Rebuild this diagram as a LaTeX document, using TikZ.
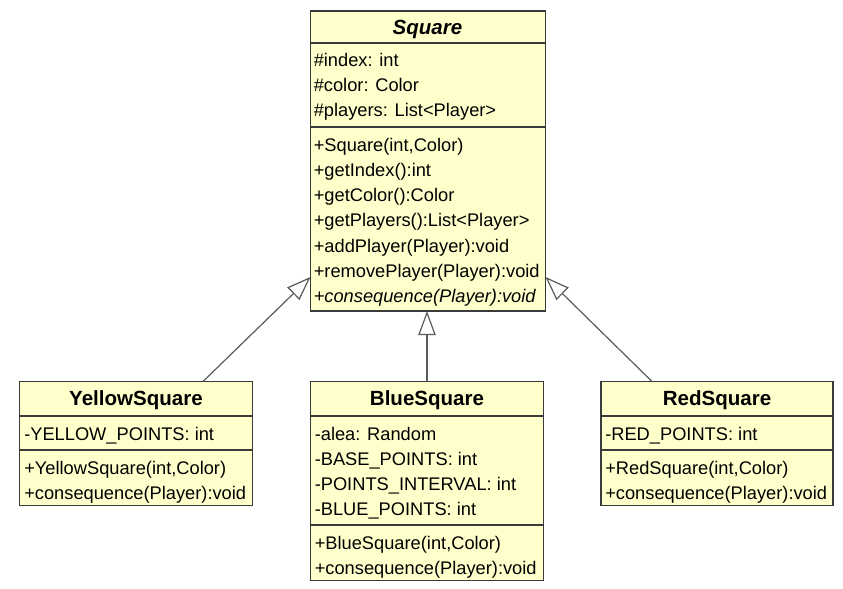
\documentclass[tikz,border=0pt]{standalone}
\usepackage{fontspec}
\setmainfont{Liberation Sans}
\usetikzlibrary{arrows.meta}
\definecolor{clsfill}{HTML}{FFFFCC}
\definecolor{clsdraw}{HTML}{3A3A3A}
\definecolor{linecol}{HTML}{5A5A5A}
\begin{document}
\begin{tikzpicture}[x=0.75pt,y=-0.75pt,
  cls/.style={draw=clsdraw, line width=1.1pt, fill=clsfill, anchor=north west, inner sep=0pt, outer sep=0pt},
  sep/.style={draw=clsdraw, line width=1.1pt},
  title/.style={font=\fontsize{15.4}{18}\selectfont\bfseries, inner sep=0pt, anchor=base},
  mem/.style={font=\fontsize{13.7}{16}\selectfont, inner sep=0pt, anchor=base west},
  inh/.style={draw=linecol, line width=0.9pt, -{Triangle[length=18pt, width=13pt, fill=white]}}]
\fill[white] (0,0) rectangle (843,589);
\useasboundingbox (0,0) rectangle (843,589);

% ---------- Square ----------
\node[cls, minimum width=235*0.75pt, minimum height=300*0.75pt] (square) at (310.5,11) {};
\draw[sep] (square.west |- 0,43) -- (square.east |- 0,43);
\draw[sep] (square.west |- 0,127) -- (square.east |- 0,127);
\node[title, font=\fontsize{15.4}{18}\selectfont\bfseries\itshape] (sqt) at (427.5,34.5) {Square};
\node[mem] (sqa1) at (313.5,66.5) {\#index: int};
\node[mem] (sqa2) at (313.5,91.5) {\#color: Color};
\node[mem] (sqa3) at (313.5,116.5) {\#players: List<Player>};
\node[mem] (sqm1) at (313.5,151) {+Square(int,Color)};
\node[mem] (sqm2) at (313.5,176.3) {+getIndex():int};
\node[mem] (sqm3) at (313.5,201.6) {+getColor():Color};
\node[mem] (sqm4) at (313.5,226.9) {+getPlayers():List<Player>};
\node[mem] (sqm5) at (313.5,252.2) {+addPlayer(Player):void};
\node[mem] (sqm6) at (313.5,277.5) {+removePlayer(Player):void};
\node[mem, font=\fontsize{13.7}{16}\selectfont\itshape] (sqm7) at (313.5,302.8) {+consequence(Player):void};

% ---------- YellowSquare ----------
\node[cls, minimum width=233*0.75pt, minimum height=124*0.75pt] (yellow) at (19.5,381.5) {};
\draw[sep] (yellow.west |- 0,416) -- (yellow.east |- 0,416);
\draw[sep] (yellow.west |- 0,450) -- (yellow.east |- 0,450);
\node[title] (yet) at (136,405.5) {YellowSquare};
\node[mem] (yea1) at (24,440) {-YELLOW\_POINTS: int};
\node[mem] (yem1) at (24,474) {+YellowSquare(int,Color)};
\node[mem] (yem2) at (24,499) {+consequence(Player):void};

% ---------- BlueSquare ----------
\node[cls, minimum width=233*0.75pt, minimum height=199*0.75pt] (blue) at (310.5,381.5) {};
\draw[sep] (blue.west |- 0,416) -- (blue.east |- 0,416);
\draw[sep] (blue.west |- 0,525) -- (blue.east |- 0,525);
\node[title] (blt) at (427,405.5) {BlueSquare};
\node[mem] (bla1) at (314.5,440) {-alea: Random};
\node[mem] (bla2) at (314.5,465) {-BASE\_POINTS: int};
\node[mem] (bla3) at (314.5,490) {-POINTS\_INTERVAL: int};
\node[mem] (bla4) at (314.5,515) {-BLUE\_POINTS: int};
\node[mem] (blm1) at (314.5,549) {+BlueSquare(int,Color)};
\node[mem] (blm2) at (314.5,574) {+consequence(Player):void};

% ---------- RedSquare ----------
\node[cls, minimum width=232*0.75pt, minimum height=124*0.75pt] (red) at (601,381.5) {};
\draw[sep] (red.west |- 0,416) -- (red.east |- 0,416);
\draw[sep] (red.west |- 0,450) -- (red.east |- 0,450);
\node[title] (ret) at (717,405.5) {RedSquare};
\node[mem] (rea1) at (605,440) {-RED\_POINTS: int};
\node[mem] (rem1) at (605,474) {+RedSquare(int,Color)};
\node[mem] (rem2) at (605,499) {+consequence(Player):void};

% ---------- generalizations ----------
\draw[inh] (yellow.north -| 203,0) -- (square.west |- 0,277);
\draw[inh] (blue.north) -- (square.south -| blue.north);
\draw[inh] (red.north -| 652,0) -- (square.east |- 0,277);
\end{tikzpicture}
\end{document}
